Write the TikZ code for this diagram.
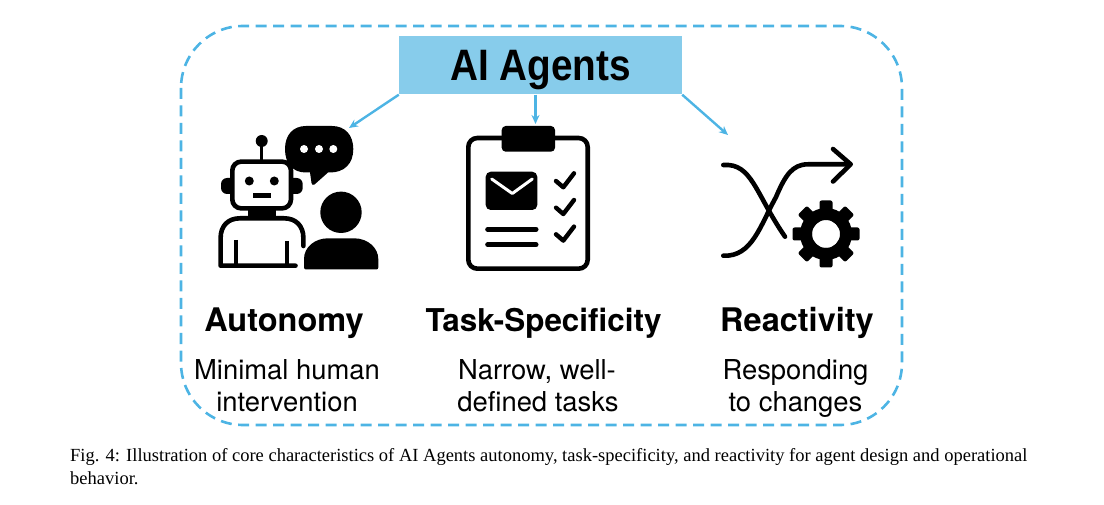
\documentclass[tikz,border=0pt]{standalone}
\usepackage{fontspec}
\usepackage{tikz}
\usetikzlibrary{positioning, calc, arrows.meta}
\setmainfont{Liberation Serif}
\newfontfamily\headfont{TeX Gyre Heros}
\newfontfamily\titlefont[FakeStretch=0.88]{Liberation Sans}
\definecolor{agentblue}{HTML}{4DB4E4}
\definecolor{agentfill}{HTML}{87CCEB}

\begin{document}
\begin{tikzpicture}[
        x=1pt, y=-1pt,
        titlebox/.style={
            rectangle,
            fill=agentfill,
            minimum width=283pt,
            minimum height=58pt,
            inner sep=0pt
        },
        arrow/.style={
            -{Stealth[length=9pt,width=8pt]},
            line width=2.4pt,
            agentblue
        },
        head/.style={
            anchor=base,
            inner sep=0pt,
            font=\headfont\bfseries\fontsize{32.5}{32.5}\selectfont
        },
        detail/.style={
            anchor=base,
            inner sep=0pt,
            font=\headfont\fontsize{27.4}{27.4}\selectfont
        },
        caption/.style={
            anchor=base west,
            inner sep=0pt,
            font=\fontsize{18.5}{18.5}\selectfont
        },
        icon/.style={
            line width=4.6pt,
            line cap=round,
            line join=round
        }
    ]
    \useasboundingbox (0,0) rectangle (1104,505);

    % Outer frame
    \draw[agentblue, line width=2.6pt, dash pattern=on 11pt off 6.5pt, rounded corners=62pt]
        (181,26) rectangle (902,425);

    % Title
    \node[titlebox] (agents) at (540.5,65.5) {};
    \node[anchor=base, inner sep=0pt, font=\titlefont\bfseries\fontsize{44}{44}\selectfont]
        (agentstext) at (540.5,80.5) {AI Agents};

    % Arrow ends
    \coordinate (robotend) at (349,128);
    \coordinate (boardend) at (535.5,124);
    \coordinate (shuffleend) at (728,135);

    % Arrows
    \draw[arrow] (agents.south west) -- (robotend);
    \draw[arrow] (agents.south -| boardend) -- (boardend);
    \draw[arrow] (agents.south east) -- (shuffleend);

    % Robot
    \fill (261.7,141) circle (6);
    \draw[line width=3.2pt] (261.7,141) -- (261.7,161);
    \fill[rounded corners=6pt] (221,178) rectangle (240,194);
    \fill[rounded corners=6pt] (284,178) rectangle (302.7,194);
    \draw[icon, fill=white, rounded corners=9pt] (232.3,161.6) rectangle (291,208.4);
    \fill (249.3,181) circle (4.5);
    \fill (274.3,181) circle (4.5);
    \fill (253.3,193.3) rectangle (270.7,198);
    \fill (248,209) rectangle (276,218);
    \draw[icon] (303.4,246) -- (303.4,238) .. controls (303.4,226) and (296,218.3) .. (284,218.3)
        -- (240,218.3) .. controls (228,218.3) and (220.6,226) .. (220.6,238)
        -- (220.6,265.7) -- (295.5,265.7);
    \draw[line width=4pt] (236,240) -- (236,265);
    \draw[line width=4pt] (287.3,241) -- (287.3,265);

    % Speech bubble
    \fill (306,126) -- (332,126) .. controls (345,126) and (353.3,135) .. (353.3,149)
        .. controls (353.3,164) and (344,172.5) .. (330,172.5) -- (328,172.5)
        -- (314.5,184.5) .. controls (313,185.5) and (312,185) .. (311.5,183)
        -- (310,172.5) -- (306,172.5) .. controls (293,172.5) and (285,164) .. (285,149)
        .. controls (285,135) and (293,126) .. (306,126) -- cycle;
    \foreach \x in {304,319,333.3} {
        \fill[white] (\x,149) circle (4);
    }

    % Person
    \fill (341,212.3) circle (20.7);
    \fill[rounded corners=2pt] (304,269.5) -- (304,261)
        .. controls (304,247) and (315,238.3) .. (330,238.3) -- (352,238.3)
        .. controls (368,238.3) and (378.3,248) .. (378.3,261) -- (378.3,269.5) -- cycle;

    % Clipboard
    \draw[icon, rounded corners=9pt] (468.3,138) rectangle (587.7,268.7);
    \fill[rounded corners=4pt] (501.7,126) rectangle (555,151.7);
    \fill[rounded corners=5pt] (485.7,171.7) rectangle (537.3,210);
    \draw[white, line width=3pt, line cap=round, line join=round]
        (491.7,179) -- (512.3,193.5) -- (532.3,179);
    \foreach \y in {181,207.7,234.3} {
        \draw[line width=4.4pt, line cap=round, line join=round]
            (556,\y) -- (563.3,\y+6.3) -- (574,\y-7.7);
    }
    \draw[line width=5pt, line cap=round] (487.7,229.3) -- (536,229.3);
    \draw[line width=5pt, line cap=round] (487.7,244.7) -- (536,244.7);

    % Shuffle
    \draw[icon] (723.3,165) .. controls (752,163) and (755,193) .. (785,236.7);
    \draw[icon] (723.3,255.7) .. controls (752,257) and (760,226) .. (776,197)
        .. controls (785,176) and (792,164.3) .. (808,164.3) -- (850,164.3);
    \draw[icon] (833,149) -- (850.7,164.3) -- (833,181.5);

    % Gear
    \foreach \a in {0,45,...,315} {
        \fill[rotate around={\a:(826,234)}, rounded corners=2pt]
            (819.5,200.5) rectangle (832.5,220);
    }
    \fill[even odd rule] (826,234) circle (26) (826,234) circle (14);

    % Labels
    \node[head] (autonomy) at (284,331.5) {Autonomy};
    \node[head, font=\headfont\bfseries\fontsize{31.4}{31.4}\selectfont] (specificity) at (543.5,331.5) {Task-Specificity};
    \node[head] (reactivity) at (797,331.5) {Reactivity};

    \node[detail] (autonomyone) at (287,379.5) {Minimal human};
    \node[detail] (autonomytwo) at (287,411) {intervention};
    \node[detail] (specificityone) at (537,379.5) {Narrow, well-};
    \node[detail] (specificitytwo) at (538,411) {defined tasks};
    \node[detail] (reactivityone) at (795.5,379.5) {Responding};
    \node[detail] (reactivitytwo) at (795.5,411) {to changes};

    % Caption
    \node[caption] (captionone) at (70,461)
        {Fig. 4: Illustration of core characteristics of AI Agents autonomy, task-specificity, and reactivity for agent design and operational};
    \node[caption] (captiontwo) at (70,484) {behavior.};

\end{tikzpicture}
\end{document}
